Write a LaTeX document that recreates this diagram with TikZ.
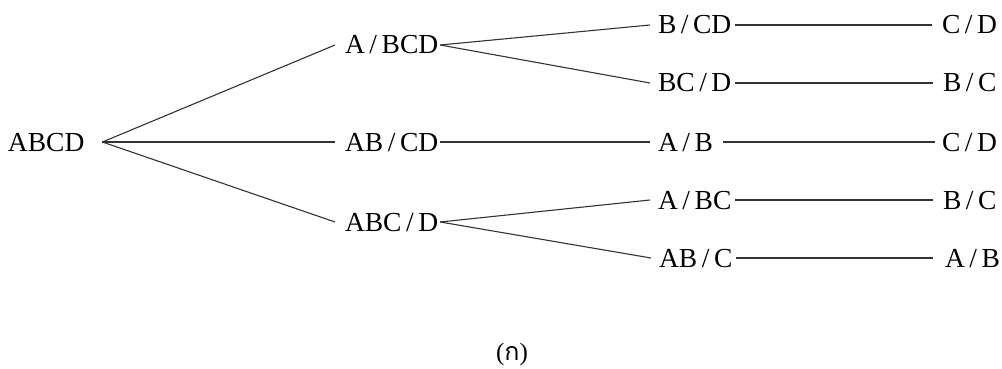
\documentclass[tikz,border=0pt]{standalone}
\usepackage{fontspec}
\setmainfont{Liberation Serif}
\newfontfamily\thaifont[Script=Thai]{Loma}
\newcommand{\spl}{\,/\,}
\begin{document}
\begin{tikzpicture}[x=1pt,y=-1pt,
  lbl/.style={inner sep=0pt, outer sep=0pt, anchor=west, text height=18pt, text depth=0pt, font=\fontsize{27.5}{30}\selectfont},
  conn/.style={line width=1.1pt, draw=black!80}]
\useasboundingbox (0,0) rectangle (1002,369);
% column 0
\node[lbl] (abcd) at (8,142) {ABCD};
% column 1
\node[lbl] (a1) at (345,45) {A\spl BCD};
\node[lbl] (a2) at (345,142) {AB\spl CD};
\node[lbl] (a3) at (345,222) {ABC\spl D};
% column 2
\node[lbl] (b1) at (658,25) {B\spl CD};
\node[lbl] (b2) at (658,83) {BC\spl D};
\node[lbl] (b3) at (658,142) {A\spl B};
\node[lbl] (b4) at (658,200) {A\spl BC};
\node[lbl] (b5) at (659,258) {AB\spl C};
% column 3
\node[lbl] (c1) at (942,25) {C\spl D};
\node[lbl] (c2) at (943,83) {B\spl C};
\node[lbl] (c3) at (942,142) {C\spl D};
\node[lbl] (c4) at (943,200) {B\spl C};
\node[lbl] (c5) at (945,258) {A\spl B};
% caption
\node[inner sep=0pt, font=\fontsize{25}{28}\selectfont] (cap) at (512,354) {({\thaifont ก})};
% connectors
\coordinate (root) at ([xshift=18pt]abcd.east);
\draw[conn] (root) -- ([xshift=-10pt]a1.west);
\draw[conn] (root) -- ([xshift=-10pt]a2.west);
\draw[conn] (root) -- ([xshift=-10pt]a3.west);
\draw[conn] ([xshift=2pt]a1.east) -- ([xshift=-8pt]b1.west);
\draw[conn] ([xshift=2pt]a1.east) -- ([xshift=-8pt]b2.west);
\draw[conn] ([xshift=2pt]a2.east) -- ([xshift=-8pt]b3.west);
\draw[conn] ([xshift=2pt]a3.east) -- ([xshift=-8pt]b4.west);
\draw[conn] ([xshift=2pt]a3.east) -- ([xshift=-8pt]b5.west);
\draw[conn] ([xshift=4pt]b1.east) -- ([xshift=-10pt]c1.west);
\draw[conn] ([xshift=4pt]b2.east) -- ([xshift=-10pt]c2.west);
\draw[conn] ([xshift=10pt]b3.east) -- ([xshift=-7pt]c3.west);
\draw[conn] ([xshift=4pt]b4.east) -- ([xshift=-10pt]c4.west);
\draw[conn] ([xshift=4pt]b5.east) -- ([xshift=-12pt]c5.west);
\end{tikzpicture}
\end{document}
